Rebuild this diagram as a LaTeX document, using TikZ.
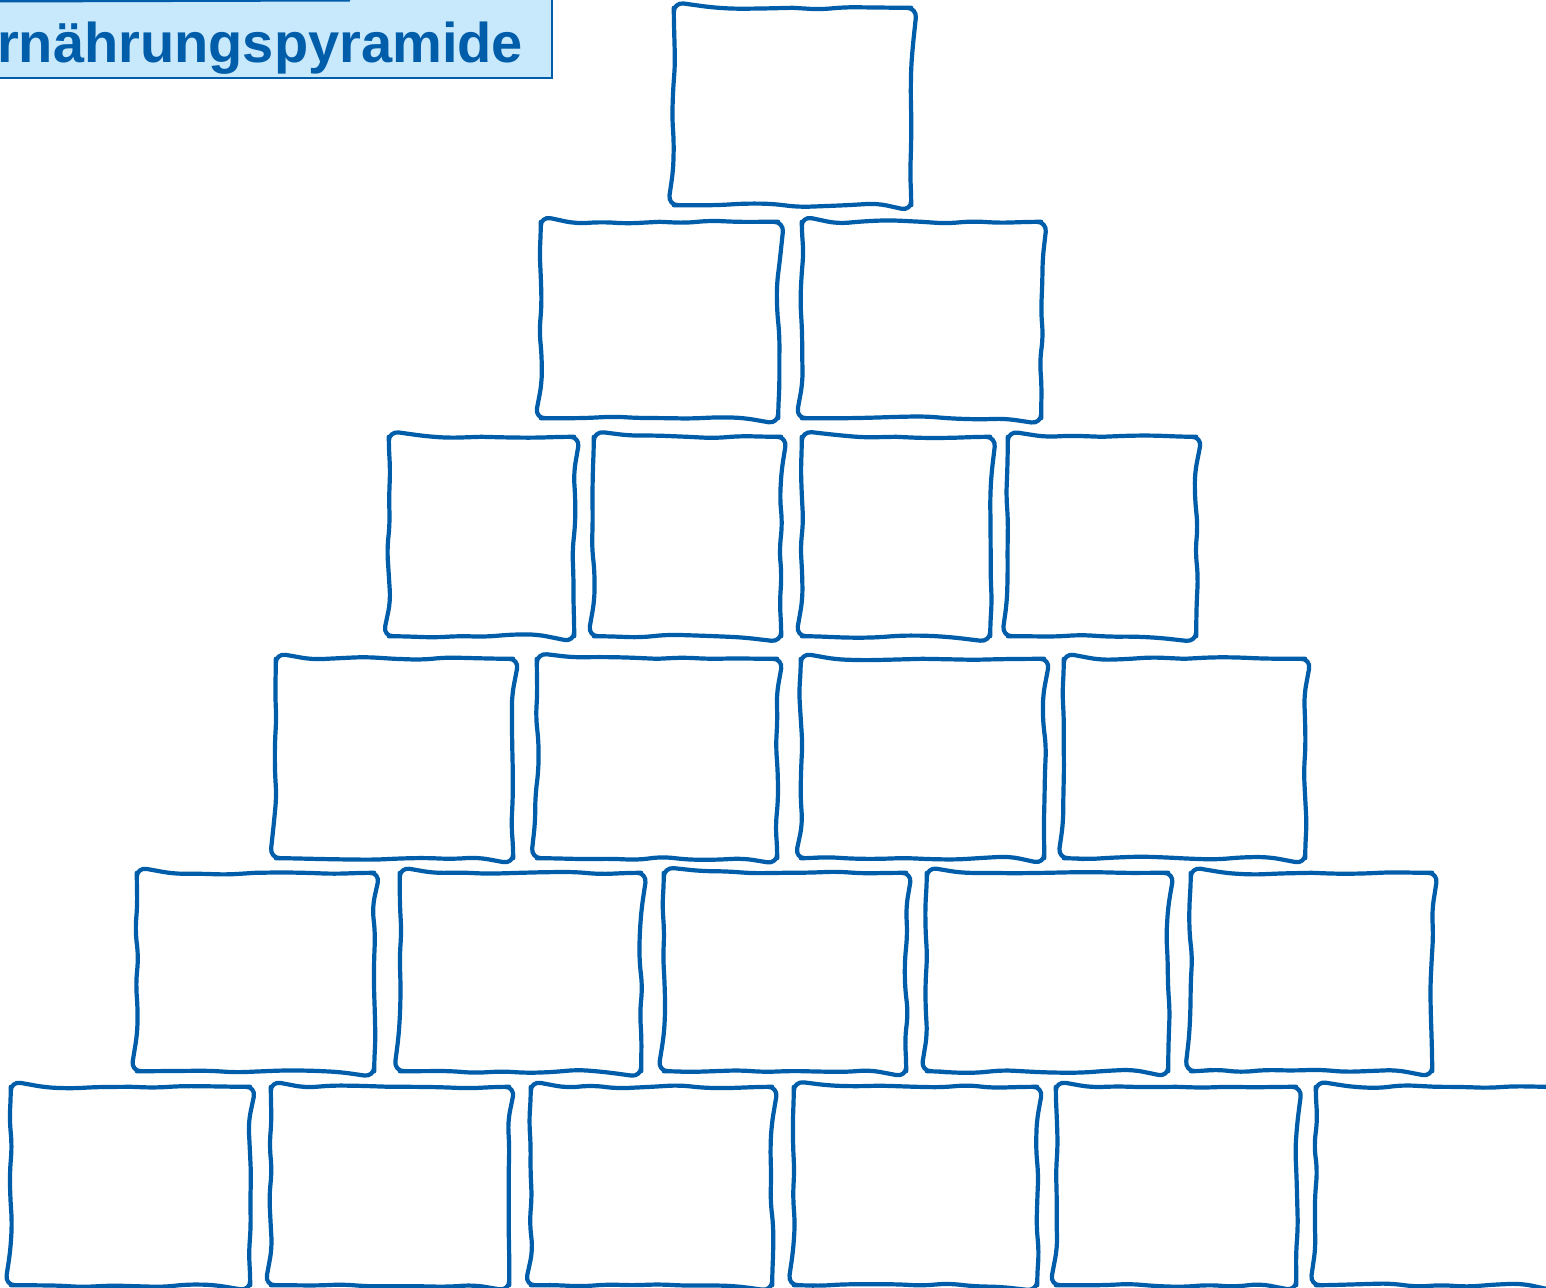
\documentclass[tikz,border=0pt]{standalone}
\usepackage{fontspec}
\setsansfont{Liberation Sans}
\usetikzlibrary{decorations.pathmorphing}
\definecolor{pyrblue}{HTML}{005DAA}
\definecolor{titlefill}{HTML}{C8E8FB}
\tikzset{
  boxnode/.style={inner sep=0pt},
  handline/.style={draw=pyrblue,line width=4.2pt,line cap=round,line join=round,
    decorate,decoration={random steps,segment length=26pt,amplitude=1.9pt},
    rounded corners=10pt},
  titlebox/.style={fill=titlefill,draw=pyrblue,line width=1.5pt}
}

\begin{document}
\begin{tikzpicture}[x=1pt,y=-1pt]
  \pgfmathsetseed{4711}
  \clip (0,0) rectangle (1546,1287);
  % title
  \draw[titlebox] (-5,-5) rectangle (552,78);
  \draw[pyrblue,line width=3pt] (-5,1) -- (350,0);
  \node[anchor=base west,inner sep=0pt,text=pyrblue,font=\sffamily\bfseries\fontsize{56}{60}\selectfont] (title) at (-3,63) {rnährungspyramide};
  % row 1
  \begin{scope}[every node/.append style={boxnode,minimum height=197pt}]
    \node[minimum width=237pt] (b11) at (792.5,106.5) {};
  \end{scope}
  % row 2
  \begin{scope}[every node/.append style={boxnode,minimum height=196pt}]
    \node[minimum width=237pt] (b21) at (659.5,320) {};
    \node[minimum width=239pt] (b22) at (921.5,320) {};
  \end{scope}
  % row 3
  \begin{scope}[every node/.append style={boxnode,minimum height=199pt}]
    \node[minimum width=185pt] (b31) at (481.5,536.5) {};
    \node[minimum width=187pt] (b32) at (687.5,536.5) {};
    \node[minimum width=188pt] (b33) at (896,536.5) {};
    \node[minimum width=188pt] (b34) at (1102,536.5) {};
  \end{scope}
  % row 4
  \begin{scope}[every node/.append style={boxnode,minimum height=199pt}]
    \node[minimum width=237pt] (b41) at (394.5,758.5) {};
    \node[minimum width=240pt] (b42) at (657,758.5) {};
    \node[minimum width=243pt] (b43) at (922.5,758.5) {};
    \node[minimum width=241pt] (b44) at (1184.5,758.5) {};
  \end{scope}
  % row 5
  \begin{scope}[every node/.append style={boxnode,minimum height=198pt}]
    \node[minimum width=237pt] (b51) at (255.5,972) {};
    \node[minimum width=241pt] (b52) at (520.5,972) {};
    \node[minimum width=242pt] (b53) at (785,972) {};
    \node[minimum width=241pt] (b54) at (1047.5,972) {};
    \node[minimum width=241pt] (b55) at (1311.5,972) {};
  \end{scope}
  % row 6
  \begin{scope}[every node/.append style={boxnode,minimum height=198pt}]
    \node[minimum width=239pt] (b61) at (130.5,1186) {};
    \node[minimum width=238pt] (b62) at (390,1186) {};
    \node[minimum width=241pt] (b63) at (651.5,1186) {};
    \node[minimum width=243pt] (b64) at (915.5,1186) {};
    \node[minimum width=240pt] (b65) at (1176,1186) {};
    \node[minimum width=240pt] (b66) at (1436,1186) {};
  \end{scope}
  % hand drawn frames
  \foreach \b in {b11,b21,b22,b31,b32,b33,b34,b41,b42,b43,b44,
                  b51,b52,b53,b54,b55,b61,b62,b63,b64,b65,b66}
    \draw[handline] (\b.north) -- (\b.north east) -- (\b.south east)
      -- (\b.south west) -- (\b.north west) -- (\b.north);
\end{tikzpicture}
\end{document}
